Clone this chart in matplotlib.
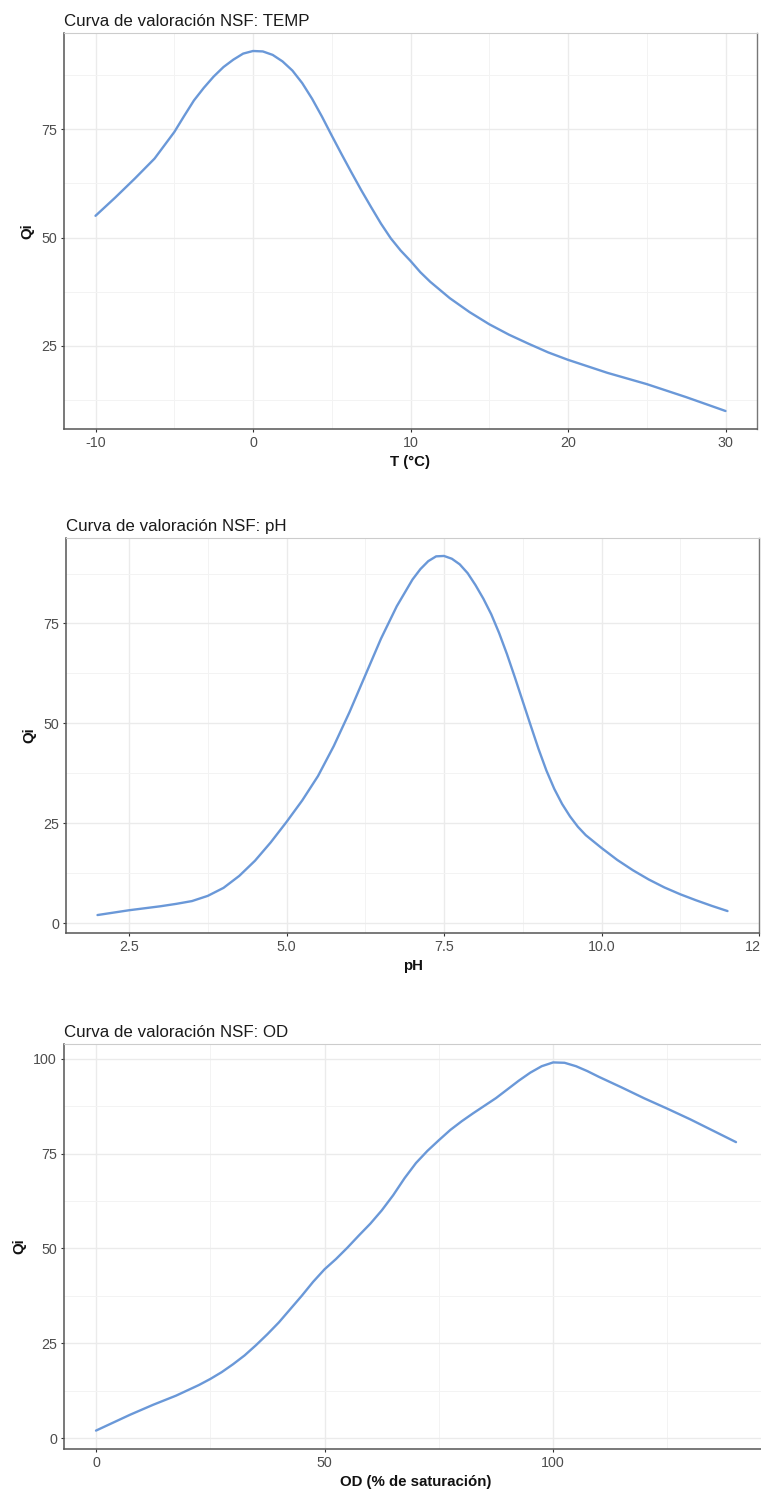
import matplotlib
matplotlib.use("Agg")
import matplotlib.pyplot as plt
from matplotlib.ticker import FixedLocator

plt.rcParams['font.family'] = ['Liberation Sans', 'DejaVu Sans']
plt.rcParams['axes.unicode_minus'] = False

# ---- Data ----
temp_x = [-10, -8.75, -7.5, -6.25, -5, -4.375, -3.75, -3.125, -2.5, -1.875, -1.25, -0.625, 0,
          0.625, 1.25, 1.875, 2.5, 3.125, 3.75, 4.375, 5, 5.625, 6.25, 6.875, 7.5, 8.125,
          8.75, 9.375, 10, 10.625, 11.25, 12.5, 13.75, 15, 16.25, 17.5, 18.75, 20, 22.5,
          25, 27.5, 30]
temp_q = [55.0, 59.2, 63.6, 68.2, 74.3, 78.0, 81.6, 84.5, 87.1, 89.3, 91.0, 92.4, 93.0,
          92.9, 92.1, 90.6, 88.5, 85.6, 82.0, 77.9, 73.5, 69.2, 65.0, 60.9, 57.0, 53.2,
          49.8, 47.0, 44.6, 42.0, 39.8, 36.0, 32.8, 30.0, 27.6, 25.5, 23.5, 21.8, 18.8,
          16.2, 13.2, 10.0]

ph_x = [2, 2.5, 3, 3.25, 3.5, 3.75, 4, 4.25, 4.5, 4.75, 5, 5.25, 5.5, 5.75, 6, 6.25, 6.5,
        6.75, 7, 7.125, 7.25, 7.375, 7.5, 7.625, 7.75, 7.875, 8, 8.125, 8.25, 8.375, 8.5,
        8.625, 8.75, 8.875, 9, 9.125, 9.25, 9.375, 9.5, 9.625, 9.75, 10, 10.25, 10.5,
        10.75, 11, 11.25, 11.5, 11.75, 12]
ph_q = [2, 3.2, 4.2, 4.8, 5.5, 6.8, 8.8, 11.8, 15.6, 20.2, 25.3, 30.7, 36.8, 44.3, 52.8,
        62.0, 71.2, 79.3, 86.0, 88.6, 90.6, 91.8, 91.9, 91.2, 89.8, 87.6, 84.6, 81.2, 77.3,
        72.6, 67.3, 61.5, 55.5, 49.5, 43.6, 38.2, 33.6, 29.8, 26.7, 24.1, 22.0, 18.8, 15.8,
        13.2, 10.9, 8.9, 7.2, 5.7, 4.3, 3.0]

od_x = [0, 2.5, 5, 7.5, 10, 12.5, 15, 17.5, 20, 22.5, 25, 27.5, 30, 32.5, 35, 37.5, 40,
        42.5, 45, 47.5, 50, 52.5, 55, 57.5, 60, 62.5, 65, 67.5, 70, 72.5, 75, 77.5, 80,
        82.5, 85, 87.5, 90, 92.5, 95, 97.5, 100, 102.5, 105, 107.5, 110, 115, 120, 125,
        130, 135, 140]
od_q = [2, 3.4, 4.8, 6.2, 7.5, 8.8, 10.0, 11.2, 12.6, 14.0, 15.6, 17.4, 19.5, 21.8, 24.5,
        27.4, 30.5, 34.0, 37.5, 41.2, 44.5, 47.2, 50.2, 53.4, 56.5, 60.0, 64.0, 68.5, 72.5,
        75.7, 78.5, 81.2, 83.5, 85.6, 87.6, 89.6, 91.9, 94.2, 96.3, 98.0, 99.0, 98.9,
        98.0, 96.7, 95.2, 92.4, 89.5, 86.8, 84.0, 81.0, 78.0]

titles = ["Curva de valoración NSF: TEMP", "Curva de valoración NSF: pH",
          "Curva de valoración NSF: OD"]
xlabels = ["T (°C)", "pH", "OD (% de saturación)"]
ylabel = "Qi"

temp_xticks = [-10, 0, 10, 20, 30]
temp_xminor = [-5, 5, 15, 25]
temp_yticks = [25, 50, 75]
temp_yminor = [12.5, 37.5, 62.5, 87.5]

ph_xticks = [2.5, 5.0, 7.5, 10.0, 12.5]
ph_xlabels = ["2.5", "5.0", "7.5", "10.0", "12.5"]
ph_xminor = [3.75, 6.25, 8.75, 11.25]
ph_yticks = [0, 25, 50, 75]
ph_yminor = [12.5, 37.5, 62.5, 87.5]

od_xticks = [0, 50, 100]
od_xminor = [25, 75, 125]
od_yticks = [0, 25, 50, 75, 100]
od_yminor = [12.5, 37.5, 62.5, 87.5]

W, H = 761, 1492
fig = plt.figure(figsize=(W / 100, H / 100), dpi=100)


def make_ax(l, t, r, b):
    return fig.add_axes([l / W, 1 - b / H, (r - l) / W, (b - t) / H])


line_color = '#6a98d8'
grid_major = '#ebebeb'
grid_minor = '#f3f3f3'


def style(ax, x, y, xt, xm, yt, ym, title, xlabel, xtl=None):
    xr = max(x) - min(x)
    yr = max(y) - min(y)
    ax.set_xlim(min(x) - 0.05 * xr, max(x) + 0.05 * xr)
    ax.set_ylim(min(y) - 0.05 * yr, max(y) + 0.05 * yr)
    ax.xaxis.set_major_locator(FixedLocator(xt))
    ax.xaxis.set_minor_locator(FixedLocator(xm))
    ax.yaxis.set_major_locator(FixedLocator(yt))
    ax.yaxis.set_minor_locator(FixedLocator(ym))
    if xtl is not None:
        ax.set_xticklabels(xtl)
    ax.grid(which='major', color=grid_major, lw=1.0, zorder=0)
    ax.grid(which='minor', color=grid_minor, lw=0.7, zorder=0)
    ax.set_axisbelow(True)
    ax.tick_params(which='major', length=2.5, width=0.8, color='#333333',
                   labelsize=10.3, labelcolor='#4d4d4d', pad=2.5)
    ax.tick_params(which='minor', length=0)
    for s in ['left', 'bottom']:
        ax.spines[s].set_color('#555555')
        ax.spines[s].set_linewidth(1.1)
    ax.spines['right'].set_color('#777777')
    ax.spines['right'].set_linewidth(1.0)
    ax.spines['top'].set_color('#cccccc')
    ax.spines['top'].set_linewidth(0.8)
    ax.plot(x, y, color=line_color, lw=1.7, solid_capstyle='round',
            solid_joinstyle='round', zorder=3)
    ax.set_title(title, loc='left', fontsize=12.2, color='#1a1a1a', pad=5)
    ax.set_xlabel(xlabel, fontsize=10.8, fontweight='bold', color='#111111', labelpad=3.5)
    ax.set_ylabel(ylabel, fontsize=10.8, fontweight='bold', color='#111111', labelpad=5)
    for lab in ax.get_xticklabels():
        lab.set_clip_on(False)


ax1 = make_ax(64, 33, 757, 429)
style(ax1, temp_x, temp_q, temp_xticks, temp_xminor, temp_yticks, temp_yminor,
      titles[0], xlabels[0])

ax2 = make_ax(66, 538, 759, 933)
style(ax2, ph_x, ph_q, ph_xticks, ph_xminor, ph_yticks, ph_yminor,
      titles[1], xlabels[1], ph_xlabels)

ax3 = make_ax(64, 1044, 768, 1449)
style(ax3, od_x, od_q, od_xticks, od_xminor, od_yticks, od_yminor,
      titles[2], xlabels[2])

fig.savefig("out.png", dpi=100, facecolor='white')
